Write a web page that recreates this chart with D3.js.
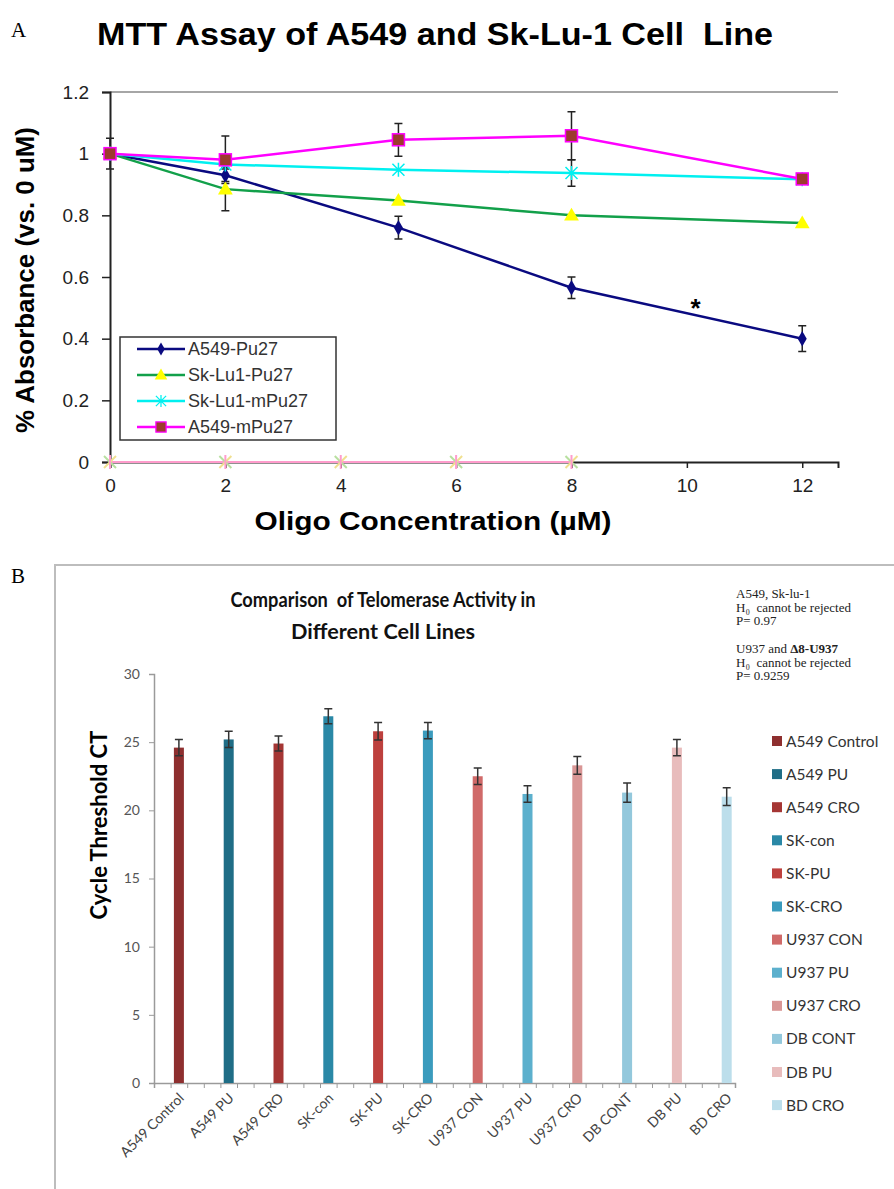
<!DOCTYPE html>
<html>
<head>
<meta charset="utf-8">
<script src="https://cdn.jsdelivr.net/npm/d3@7"></script>
<style>
  body { margin: 0; background: #fff; }
  text { white-space: pre; }
</style>
</head>
<body>
<script>
// ---- panel A data (MTT assay) ----
var concX = [0, 2, 5, 8, 12];
var seriesNames = ["A549-Pu27", "Sk-Lu1-Pu27", "Sk-Lu1-mPu27", "A549-mPu27"];
var a549Pu27 = [1, 0.93, 0.76, 0.565, 0.40];
var a549Pu27Err = [0.05, 0.02, 0.037, 0.035, 0.042];
var skLu1Pu27 = [1, 0.885, 0.848, 0.80, 0.775];
var skLu1Pu27Err = [0, 0.07, 0, 0, 0];
var skLu1mPu27 = [1, 0.965, 0.948, 0.937, 0.917];
var skLu1mPu27Err = [0, 0, 0, 0.043, 0];
var a549mPu27 = [1, 0.98, 1.045, 1.058, 0.918];
var a549mPu27Err = [0, 0.077, 0.053, 0.078, 0];
var zeroX = [0, 2, 4, 6, 8];
var zeroY = [0, 0, 0, 0, 0];
var xTicksA = [0, 2, 4, 6, 8, 10, 12];
var yTicksA = [0, 0.2, 0.4, 0.6, 0.8, 1, 1.2];

// ---- panel B data (telomerase CT) ----
var cellLines = ["A549 Control", "A549 PU", "A549 CRO", "SK-con", "SK-PU", "SK-CRO",
                 "U937 CON", "U937 PU", "U937 CRO", "DB CONT", "DB PU", "BD CRO"];
var ctValues = [24.6, 25.2, 24.9, 26.9, 25.8, 25.85, 22.5, 21.2, 23.3, 21.3, 24.6, 21.0];
var ctErrors = [0.6, 0.6, 0.55, 0.55, 0.65, 0.6, 0.6, 0.6, 0.65, 0.7, 0.6, 0.65];
var barColors = ["#8e2f2f", "#1f6d86", "#a53634", "#2a88a6", "#bd403d", "#3a9bbd",
                 "#d06a69", "#5cb0cd", "#d99695", "#93c8dc", "#e8bcbc", "#bcdeeb"];
var yTicksB = [0, 5, 10, 15, 20, 25, 30];
var noteLines = ["A549, Sk-lu-1", "H\u2080  cannot be rejected", "P= 0.97", "",
                 "U937 and ", "H\u2080  cannot be rejected", "P= 0.9259"];

var width = 894, height = 1189;

var svg = d3.select("body").append("svg")
    .attr("width", width)
    .attr("height", height)
    .style("font-family", "'Liberation Sans', Arial, sans-serif");

svg.append("rect").attr("width", width).attr("height", height).attr("fill", "#fff");

// ================= Panel A =================
var xA = d3.scaleLinear().domain([0, 12.62]).range([110, 838]);
var yA = d3.scaleLinear().domain([0, 1.2]).range([462, 92]);

svg.append("text")
    .attr("x", 11).attr("y", 37)
    .style("font-family", "'Liberation Serif', serif")
    .style("font-size", "21px")
    .text("A");

svg.append("text")
    .attr("x", 435).attr("y", 45)
    .attr("text-anchor", "middle")
    .attr("textLength", 676).attr("lengthAdjust", "spacingAndGlyphs")
    .style("font-size", "31px").style("font-weight", "bold")
    .text("MTT Assay of A549 and Sk-Lu-1 Cell  Line");

// top border of plot area
svg.append("line")
    .attr("x1", xA(0)).attr("x2", 838)
    .attr("y1", yA(1.2)).attr("y2", yA(1.2))
    .attr("stroke", "#888").attr("stroke-width", 1.5);

var yAxisA = svg.append("g")
    .attr("transform", "translate(" + xA(0) + ",0)")
    .call(d3.axisLeft(yA).tickValues(yTicksA).tickSize(8).tickPadding(13)
        .tickFormat(function(d) { return String(+d.toFixed(1)); }));

var xAxisA = svg.append("g")
    .attr("transform", "translate(0," + yA(0) + ")")
    .call(d3.axisBottom(xA).tickValues(xTicksA).tickSize(6).tickPadding(11));

[yAxisA, xAxisA].forEach(function(g) {
  g.select(".domain").attr("stroke", "#222").attr("stroke-width", 2);
  g.selectAll(".tick line").attr("stroke", "#222").attr("stroke-width", 1.5);
  g.selectAll(".tick text").attr("fill", "#222")
      .style("font-size", "19px")
      .style("font-family", "'Liberation Sans', Arial, sans-serif");
});

svg.append("text")
    .attr("x", 433).attr("y", 530)
    .attr("text-anchor", "middle")
    .attr("textLength", 357).attr("lengthAdjust", "spacingAndGlyphs")
    .style("font-size", "25px").style("font-weight", "bold")
    .text("Oligo Concentration (\u00b5M)");

svg.append("text")
    .attr("transform", "translate(34,280) rotate(-90)")
    .attr("text-anchor", "middle")
    .attr("textLength", 306).attr("lengthAdjust", "spacingAndGlyphs")
    .style("font-size", "25px").style("font-weight", "bold")
    .text("% Absorbance (vs. 0 uM)");

// zero series (pink line on the axis)
var line = d3.line()
    .x(function(d) { return xA(d[0]); })
    .y(function(d) { return yA(d[1]); });

svg.append("path")
    .datum(d3.zip(zeroX, zeroY))
    .attr("d", line)
    .attr("fill", "none").attr("stroke", "#ff9ccc").attr("stroke-width", 2);

var star = "M-6,-6L6,6M-6,6L6,-6M0,-7L0,7";
svg.selectAll(".zero-mark")
    .data(d3.zip(zeroX, zeroY))
  .enter().append("g")
    .attr("transform", function(d) { return "translate(" + xA(d[0]) + "," + yA(d[1]) + ")"; })
    .each(function() {
      var g = d3.select(this);
      g.append("path").attr("d", "M-6,-6L6,6").attr("stroke", "#b8e0a0").attr("stroke-width", 2);
      g.append("path").attr("d", "M-6,6L6,-6").attr("stroke", "#f0e090").attr("stroke-width", 2);
      g.append("path").attr("d", "M0,-7L0,7").attr("stroke", "#ff9ccc").attr("stroke-width", 2);
    });

var seriesA = [
  { name: seriesNames[0], y: a549Pu27, err: a549Pu27Err, line: "#0a0a80", sym: "diamond", fill: "#0a0a80" },
  { name: seriesNames[1], y: skLu1Pu27, err: skLu1Pu27Err, line: "#12a04a", sym: "triangle", fill: "#ffff00" },
  { name: seriesNames[2], y: skLu1mPu27, err: skLu1mPu27Err, line: "#00f0f0", sym: "star", fill: "#00f0f0" },
  { name: seriesNames[3], y: a549mPu27, err: a549mPu27Err, line: "#ff00ff", sym: "square", fill: "#9c3b2e" }
];

function drawMarker(g, s) {
  if (s.sym === "diamond") {
    g.append("path").attr("d", d3.symbol(d3.symbolDiamond, 70)).attr("fill", s.fill);
  } else if (s.sym === "triangle") {
    g.append("path").attr("d", d3.symbol(d3.symbolTriangle, 95)).attr("fill", s.fill)
        .attr("transform", "translate(0,1)");
  } else if (s.sym === "star") {
    g.append("path").attr("d", star).attr("stroke", s.fill).attr("stroke-width", 1.5);
  } else {
    g.append("rect").attr("x", -6).attr("y", -6).attr("width", 12).attr("height", 12)
        .attr("fill", s.fill).attr("stroke", "#ff00ff").attr("stroke-width", 1.5);
  }
}

// error bars
seriesA.forEach(function(s) {
  var eb = svg.append("g");
  concX.forEach(function(x, i) {
    if (!s.err[i]) return;
    var cx = xA(x), y0 = yA(s.y[i] - s.err[i]), y1 = yA(s.y[i] + s.err[i]);
    eb.append("path")
        .attr("d", "M" + cx + "," + y0 + "V" + y1 + "M" + (cx - 4) + "," + y0 + "H" + (cx + 4) +
              "M" + (cx - 4) + "," + y1 + "H" + (cx + 4))
        .attr("stroke", "#222").attr("stroke-width", 1.5).attr("fill", "none");
  });
});

seriesA.forEach(function(s) {
  svg.append("path")
      .datum(d3.zip(concX, s.y))
      .attr("d", line)
      .attr("fill", "none").attr("stroke", s.line).attr("stroke-width", 2.5);
});

seriesA.forEach(function(s) {
  svg.selectAll(null)
      .data(d3.zip(concX, s.y))
    .enter().append("g")
      .attr("transform", function(d) { return "translate(" + xA(d[0]) + "," + yA(d[1]) + ")"; })
      .each(function() { drawMarker(d3.select(this), s); });
});

// significance star
svg.append("text")
    .attr("x", xA(10.15)).attr("y", yA(0.47))
    .attr("text-anchor", "middle")
    .style("font-size", "26px").style("font-weight", "bold")
    .text("*");

// legend A
var legA = svg.append("g");
legA.append("rect")
    .attr("x", 120).attr("y", 337).attr("width", 216).attr("height", 103)
    .attr("fill", "#fff").attr("stroke", "#333").attr("stroke-width", 1.5);
seriesA.forEach(function(s, i) {
  var ly = 349 + i * 26;
  var row = legA.append("g");
  row.append("line").attr("x1", 137).attr("x2", 185).attr("y1", ly).attr("y2", ly)
      .attr("stroke", s.line).attr("stroke-width", 2.5);
  drawMarker(row.append("g").attr("transform", "translate(161," + ly + ") scale(0.85)"), s);
  row.append("text").attr("x", 188).attr("y", ly + 6)
      .attr("fill", "#333")
      .style("font-size", "18px")
      .text(s.name);
});

// ================= Panel B =================
svg.append("text")
    .attr("x", 11).attr("y", 583)
    .style("font-family", "'Liberation Serif', serif")
    .style("font-size", "21px")
    .text("B");

svg.append("path")
    .attr("d", "M55,1189V565H894")
    .attr("fill", "none").attr("stroke", "#bdbdbd").attr("stroke-width", 2);

var titleB = svg.append("g")
    .style("font-family", "Lato, 'Open Sans', sans-serif")
    .style("font-size", "21px").style("font-weight", "bold")
    .attr("fill", "#111");
titleB.append("text").attr("x", 383).attr("y", 607)
    .attr("text-anchor", "middle")
    .attr("textLength", 305).attr("lengthAdjust", "spacingAndGlyphs")
    .text("Comparison  of Telomerase Activity in");
titleB.append("text").attr("x", 383).attr("y", 639)
    .attr("text-anchor", "middle")
    .attr("textLength", 184).attr("lengthAdjust", "spacingAndGlyphs")
    .text("Different Cell Lines");

// statistics note
var note = svg.append("g")
    .style("font-family", "'Liberation Serif', 'DejaVu Serif', serif")
    .style("font-size", "13px")
    .attr("fill", "#222");
noteLines.forEach(function(str, i) {
  if (!str) return;
  var t = note.append("text").attr("x", 736).attr("y", 598 + i * 13.7).text(str);
  if (i === 4) t.append("tspan").style("font-weight", "bold").text("\u03948-U937");
});

// scales: 35 narrow slots, one bar every third slot
var xB = d3.scaleLinear().domain([0, 35]).range([154, 735]);
var yB = d3.scaleLinear().domain([0, 30]).range([1083, 674]);
var barSlot = function(i) { return 1 + 3 * i + 0.5; };

var yAxisB = svg.append("g")
    .attr("transform", "translate(154,0)")
    .call(d3.axisLeft(yB).tickValues(yTicksB).tickSize(5).tickPadding(9));
var xAxisB = svg.append("g")
    .attr("transform", "translate(0,1083)")
    .call(d3.axisBottom(xB).tickValues(d3.range(0, 36)).tickSize(5).tickFormat(""));

[yAxisB, xAxisB].forEach(function(g) {
  g.select(".domain").attr("stroke", "#9a9a9a").attr("stroke-width", 1.5);
  g.selectAll(".tick line").attr("stroke", "#9a9a9a");
  g.selectAll(".tick text").attr("fill", "#555")
      .style("font-size", "14px")
      .style("font-family", "Lato, 'Open Sans', sans-serif");
});

svg.append("text")
    .attr("transform", "translate(107,825) rotate(-90)")
    .attr("text-anchor", "middle")
    .style("font-family", "Lato, 'Open Sans', sans-serif")
    .style("font-size", "22px").style("font-weight", "bold")
    .text("Cycle Threshold CT");

var barW = 10;
svg.selectAll(".bar")
    .data(ctValues)
  .enter().append("rect")
    .attr("class", "bar")
    .attr("x", function(d, i) { return xB(barSlot(i)) - barW / 2; })
    .attr("y", function(d) { return yB(d); })
    .attr("width", barW)
    .attr("height", function(d) { return yB(0) - yB(d); })
    .attr("fill", function(d, i) { return barColors[i]; });

svg.selectAll(".errB")
    .data(ctValues)
  .enter().append("path")
    .attr("class", "errB")
    .attr("d", function(d, i) {
      var cx = xB(barSlot(i)), y0 = yB(d - ctErrors[i]), y1 = yB(d + ctErrors[i]);
      return "M" + cx + "," + y0 + "V" + y1 + "M" + (cx - 4) + "," + y0 + "H" + (cx + 4) +
             "M" + (cx - 4) + "," + y1 + "H" + (cx + 4);
    })
    .attr("stroke", "#333").attr("stroke-width", 1.5).attr("fill", "none");

svg.selectAll(".catB")
    .data(cellLines)
  .enter().append("text")
    .attr("class", "catB")
    .attr("transform", function(d, i) {
      return "translate(" + (xB(barSlot(i)) + 6) + ",1099) rotate(-45)";
    })
    .attr("text-anchor", "end")
    .attr("fill", "#444")
    .style("font-family", "Lato, 'Open Sans', sans-serif")
    .style("font-size", "14px")
    .text(function(d) { return d; });

// legend B
var legB = svg.selectAll(".legB")
    .data(cellLines)
  .enter().append("g")
    .attr("transform", function(d, i) { return "translate(772," + (741 + i * 33.1) + ")"; });
legB.append("rect")
    .attr("x", 0).attr("y", -5).attr("width", 10).attr("height", 10)
    .attr("fill", function(d, i) { return barColors[i]; });
legB.append("text")
    .attr("x", 14).attr("y", 5.5)
    .attr("fill", "#333")
    .style("font-family", "Lato, 'Open Sans', sans-serif")
    .style("font-size", "15.5px")
    .text(function(d) { return d; });
</script>
</body>
</html>
